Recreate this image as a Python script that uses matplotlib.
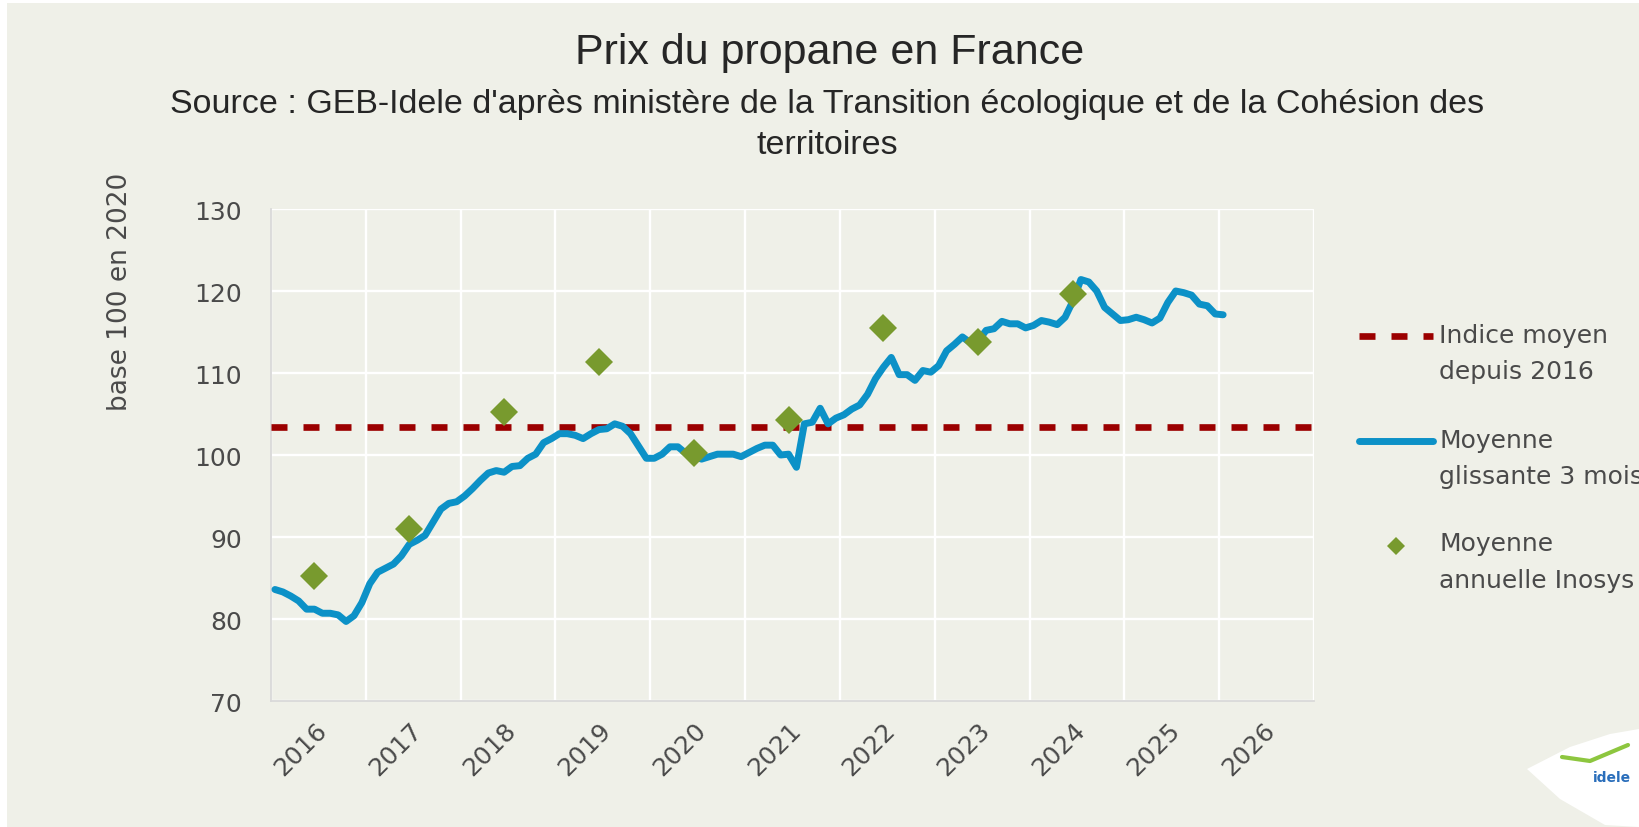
import matplotlib
matplotlib.use("Agg")
import matplotlib.pyplot as plt
from matplotlib.lines import Line2D
from matplotlib.patches import Rectangle, Polygon

# ---------------- data ----------------
start_year = 2016
year_labels = ["2016", "2017", "2018", "2019", "2020", "2021",
               "2022", "2023", "2024", "2025", "2026"]
y_ticks = [70, 80, 90, 100, 110, 120, 130]

# Moyenne glissante 3 mois (monthly, Jan 2016 -> Jan 2026), base 100 en 2020
rolling_3m = [
    83.6, 83.3, 82.8, 82.2, 81.2, 81.2, 80.7, 80.7, 80.5, 79.7, 80.4, 82.0,   # 2016
    84.3, 85.7, 86.2, 86.7, 87.7, 89.1, 89.6, 90.2, 91.8, 93.4, 94.1, 94.3,   # 2017
    95.0, 95.9, 96.9, 97.8, 98.1, 97.9, 98.6, 98.7, 99.6, 100.1, 101.5, 102.0,  # 2018
    102.6, 102.6, 102.4, 102.0, 102.6, 103.1, 103.2, 103.8, 103.5, 102.6, 101.1, 99.6,  # 2019
    99.6, 100.1, 101.0, 101.0, 100.2, 99.8, 99.5, 99.8, 100.1, 100.1, 100.1, 99.8,  # 2020
    100.3, 100.8, 101.2, 101.2, 100.0, 100.1, 98.5, 103.8, 104.0, 105.7, 103.8, 104.5,  # 2021
    104.9, 105.6, 106.1, 107.4, 109.3, 110.7, 111.9, 109.8, 109.8, 109.1, 110.3, 110.1,  # 2022
    110.9, 112.7, 113.5, 114.4, 113.7, 113.9, 115.2, 115.4, 116.3, 116.0, 116.0, 115.5,  # 2023
    115.8, 116.4, 116.2, 115.9, 116.8, 118.8, 121.4, 121.1, 120.0, 118.0, 117.2, 116.4,  # 2024
    116.5, 116.8, 116.5, 116.1, 116.7, 118.6, 120.0, 119.8, 119.5, 118.4, 118.2, 117.2,  # 2025
    117.1,                                                                      # 2026
]

# Moyenne annuelle Inosys
annual_years = [2016, 2017, 2018, 2019, 2020, 2021, 2022, 2023, 2024]
annual_values = [85.2, 91.0, 105.3, 111.4, 100.2, 104.3, 115.5, 113.8, 119.6]

# Indice moyen depuis 2016
mean_index = 103.4

# ---------------- style ----------------
BG = "#EFF0E8"
BLUE = "#0C91C7"
RED = "#9B0000"
GREEN = "#789A2E"
TXT = "#4A4A4A"
W, H = 1639, 828

fig = plt.figure(figsize=(W / 100, H / 100), dpi=100, facecolor="white")
fig.patches.append(Rectangle((7 / W, 0), 1, 1 - 4 / H, transform=fig.transFigure,
                             facecolor=BG, edgecolor="none", zorder=-10))

ax = fig.add_axes([271 / W, 1 - 702 / H, 1043 / W, 492 / H])
ax.set_zorder(2)
ax.set_facecolor(BG)

x_month = [start_year + (i + 0.5) / 12 for i in range(len(rolling_3m))]
x_annual = [y + 5.5 / 12 for y in annual_years]
x_min, x_max = start_year, start_year + len(year_labels)

ax.plot([x_min, x_max], [mean_index, mean_index], color=RED, lw=4.8,
        linestyle=(0, (2.4, 2.4)), dash_capstyle="butt", zorder=3)
ax.plot(x_month, rolling_3m, color=BLUE, lw=5.0, solid_joinstyle="round",
        solid_capstyle="round", zorder=4)
ax.plot(x_annual, annual_values, linestyle="none", marker="D", markersize=14.5,
        color=GREEN, markeredgewidth=0, zorder=5)

ax.set_xlim(x_min, x_max)
ax.set_ylim(70, 130)
ax.set_yticks(y_ticks)
ax.set_xticks(range(x_min, x_max + 1))
ax.set_xticklabels([])
ax.set_xticks([start_year + i + 0.547 for i in range(len(year_labels))], minor=True)
ax.set_xticklabels(year_labels, minor=True, rotation=45, ha="right", va="center",
                   rotation_mode="anchor", fontsize=18, color=TXT)
ax.tick_params(axis="x", which="both", length=0)
ax.tick_params(axis="x", which="minor", pad=18)
ax.tick_params(axis="y", length=0, pad=21, labelsize=18, labelcolor=TXT)
ax.grid(True, which="major", color="white", lw=1.7)
ax.set_axisbelow(True)
for s in ["top", "right"]:
    ax.spines[s].set_visible(False)
for s in ["left", "bottom"]:
    ax.spines[s].set_color("#D9D9D9")
    ax.spines[s].set_linewidth(1.3)

fig.text(120 / W, 1 - 292 / H, "base 100 en 2020", rotation=90, ha="center",
         va="center", fontsize=19, color=TXT)

# titles
fig.text(830 / W, 1 - 53 / H, "Prix du propane en France", ha="center", va="center",
         fontsize=31, color="#262626", family=["Liberation Sans", "DejaVu Sans"])
fig.text(827 / W, 1 - 125 / H,
         "Source : GEB-Idele d'après ministère de la Transition écologique et de la Cohésion des\nterritoires",
         ha="center", va="center", multialignment="center", fontsize=24.5, linespacing=1.45,
         color="#262626", family=["Liberation Sans", "DejaVu Sans"])

# legend (drawn at right of the plot)
lx0, lx1, tx = 1359 / W, 1433 / W, 1439 / W
fig.add_artist(Line2D([lx0, lx1], [1 - 337 / H] * 2, transform=fig.transFigure,
                      color=RED, lw=4.8, linestyle=(0, (2.4, 2.4))))
fig.text(tx, 1 - 354 / H, "Indice moyen\ndepuis 2016", ha="left", va="center",
         fontsize=18, color=TXT, linespacing=1.65)
fig.add_artist(Line2D([lx0, lx1], [1 - 441.7 / H] * 2, transform=fig.transFigure,
                      color=BLUE, lw=5.0, solid_capstyle="round"))
fig.text(tx, 1 - 459 / H, "Moyenne\nglissante 3 mois", ha="left", va="center",
         fontsize=18, color=TXT, linespacing=1.65)
fig.add_artist(Line2D([1396 / W], [1 - 546.7 / H], transform=fig.transFigure,
                      marker="D", markersize=9.5, color=GREEN, markeredgewidth=0,
                      linestyle="none"))
fig.text(tx, 1 - 562.5 / H, "Moyenne\nannuelle Inosys", ha="left", va="center",
         fontsize=18, color=TXT, linespacing=1.65)

# logo badge
logo = [(1527, 770), (1570, 748), (1610, 735), (1639, 730), (1639, 828), (1605, 826),
        (1560, 800)]
fig.patches.append(Polygon([(x / W, 1 - y / H) for x, y in logo], closed=True,
                           transform=fig.transFigure, facecolor="white",
                           edgecolor="none", zorder=1))
fig.add_artist(Line2D([1562 / W, 1590 / W, 1628 / W], [1 - 758 / H, 1 - 762 / H, 1 - 746 / H],
                      transform=fig.transFigure, color="#8DC63F", lw=3,
                      solid_capstyle="round"))
fig.text(1612 / W, 1 - 778 / H, "idele", ha="center", va="center", fontsize=10,
         fontweight="bold", color="#2A6EBB")

fig.savefig("out.png", dpi=100, facecolor=fig.get_facecolor())
